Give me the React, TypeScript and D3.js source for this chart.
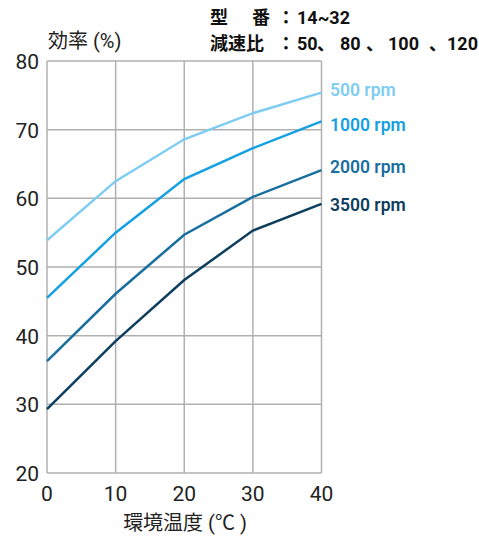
import React from "react";
import * as d3 from "d3";

const temps = [0, 10, 20, 30, 40];
const seriesNames = ["500 rpm", "1000 rpm", "2000 rpm", "3500 rpm"];
const eff500 = [53.9, 62.5, 68.6, 72.4, 75.4];
const eff1000 = [45.5, 55.0, 62.8, 67.3, 71.2];
const eff2000 = [36.3, 46.1, 54.7, 60.2, 64.1];
const eff3500 = [29.3, 39.2, 48.1, 55.3, 59.2];
const colors = ["#7fcdf2", "#14a0e3", "#186f9f", "#0d3e5e"];
const yTicks = [20, 30, 40, 50, 60, 70, 80];
const xTicks = [0, 10, 20, 30, 40];
const labelY = [90, 125, 167, 205];
const ratios = ["50", "80", "100", "120"];

export default function App() {
  const W = 479, H = 539;
  const x = d3.scaleLinear().domain([0, 40]).range([47, 321.5]);
  const y = d3.scaleLinear().domain([20, 80]).range([473, 61]);
  const all = [eff500, eff1000, eff2000, eff3500];
  const line = d3.line<number>().x((_, i) => x(temps[i])).y((d) => y(d));
  const font = "Roboto, 'Noto Sans CJK JP', sans-serif";
  const ratioX = [297, 340, 388, 447];
  const commaX = [317, 366, 429];
  return (
    <svg width={W} height={H} style={{ position: "absolute", left: 0, top: 0 }} fontFamily={font}>
      <rect width={W} height={H} fill="#fff" />
      {yTicks.map((t) => (
        <line key={"gy" + t} x1={x(0)} x2={x(40)} y1={y(t)} y2={y(t)} stroke="#b0b0b0" strokeWidth={1.5} />
      ))}
      {xTicks.map((t) => (
        <line key={"gx" + t} x1={x(t)} x2={x(t)} y1={y(20)} y2={y(80)} stroke="#b0b0b0" strokeWidth={1.5} />
      ))}
      {yTicks.map((t) => (
        <text key={"ty" + t} x={39} y={y(t) + 8} textAnchor="end" fontSize={21} fill="#222">{t}</text>
      ))}
      {xTicks.map((t) => (
        <text key={"tx" + t} x={x(t)} y={501} textAnchor="middle" fontSize={21} fill="#222">{t}</text>
      ))}
      {all.map((s, i) => (
        <path key={"l" + i} d={line(s) || ""} fill="none" stroke={colors[i]} strokeWidth={2.5} />
      ))}
      {seriesNames.map((n, i) => (
        <text key={"n" + i} x={330} y={labelY[i] + 6} fontSize={17.5} fontWeight={600} fill={colors[i]}>{n}</text>
      ))}
      <text x={48} y={48} fontSize={20} fill="#222">効率 (%)</text>
      <g fontSize={18} fontWeight={700} fill="#111">
        <text x={210} y={24}>型</text>
        <text x={252} y={24}>番</text>
        <text x={277} y={24}>：</text>
        <text x={297} y={24}>14~32</text>
        <text x={210} y={50}>減速比</text>
        <text x={277} y={50}>：</text>
        {ratios.map((r, i) => (
          <text key={"r" + i} x={ratioX[i]} y={50}>{r}</text>
        ))}
        {commaX.map((c, i) => (
          <text key={"c" + i} x={c} y={50}>、</text>
        ))}
      </g>
      <text x={185} y={530} textAnchor="middle" fontSize={20} fill="#222">環境温度 (℃ )</text>
    </svg>
  );
}
